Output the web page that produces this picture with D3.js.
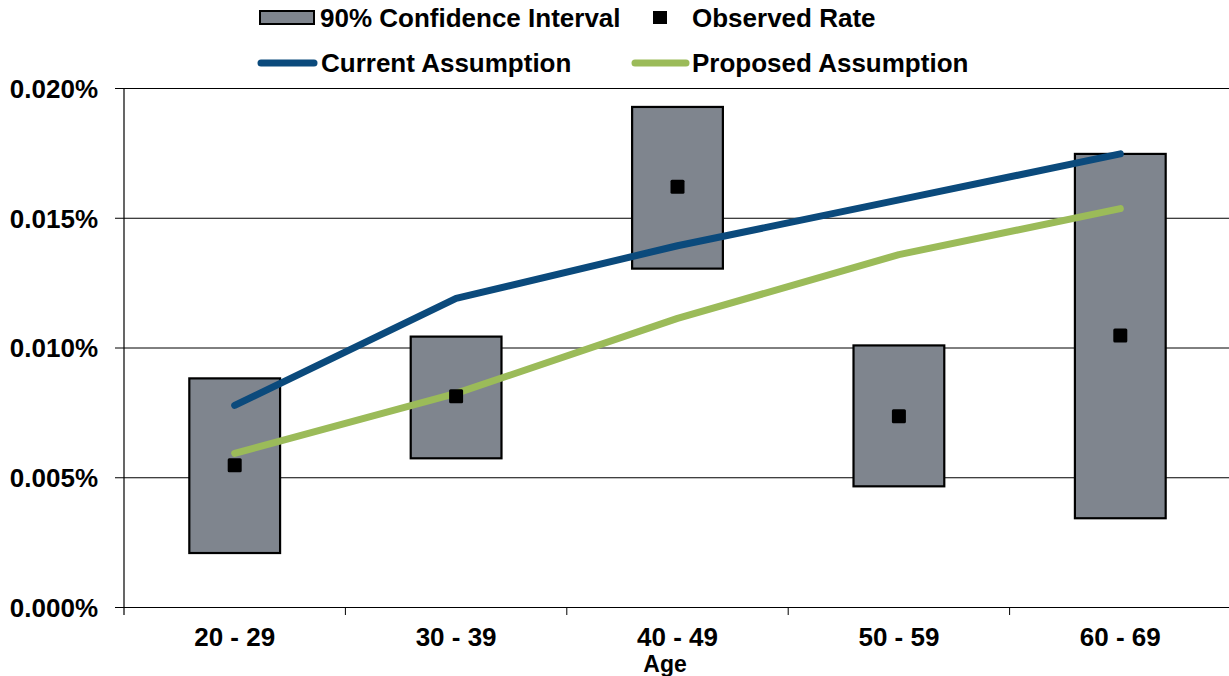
<!DOCTYPE html>
<html>
<head>
<meta charset="utf-8">
<script src="https://cdn.jsdelivr.net/npm/d3@7"></script>
<style>
  body { margin: 0; background: #fff; }
  text { font-family: "Liberation Sans", Arial, sans-serif; font-weight: bold; fill: #000; }
</style>
</head>
<body>
<div class="chart"></div>
<script>
// DATA (values in percent)
const AGES = ["20 - 29", "30 - 39", "40 - 49", "50 - 59", "60 - 69"];
const CI_LOW = [0.00208, 0.00573, 0.01304, 0.00465, 0.00342];
const CI_HIGH = [0.00881, 0.01042, 0.01927, 0.01008, 0.01746];
const OBSERVED = [0.00546, 0.00812, 0.01619, 0.00735, 0.01046];
const CURRENT = [0.00777, 0.01189, 0.01392, 0.01569, 0.01746];
const PROPOSED = [0.00592, 0.00823, 0.01112, 0.01358, 0.01535];
const Y_TICKS = [0, 0.005, 0.010, 0.015, 0.020];

// GLOBAL CONSTANTS
const FRAME_WIDTH = 1229;
const FRAME_HEIGHT = 676;
const MARGINS = {left: 124, right: -2, top: 88, bottom: 69};
const BLUE = "#0b4a7c";
const GREEN = "#9bbb59";
const BOX_FILL = "#7f858e";

const FRAME = d3.select(".chart")
  .append("svg")
    .attr("width", FRAME_WIDTH)
    .attr("height", FRAME_HEIGHT);

const X_SCALE = d3.scaleBand()
  .domain(AGES)
  .range([MARGINS.left, FRAME_WIDTH - MARGINS.right]);

const Y_SCALE = d3.scaleLinear()
  .domain([0, 0.020])
  .range([FRAME_HEIGHT - MARGINS.bottom, MARGINS.top]);

const cx = (i) => X_SCALE(AGES[i]) + X_SCALE.bandwidth() / 2;
const BOX_W = X_SCALE.bandwidth() * 0.41;

// GRIDLINES + Y AXIS
const yAxis = FRAME.append("g")
  .attr("transform", "translate(" + MARGINS.left + ",0)")
  .call(d3.axisLeft(Y_SCALE)
    .tickValues(Y_TICKS)
    .tickSize(-(FRAME_WIDTH - MARGINS.left))
    .tickPadding(26)
    .tickFormat((d) => d3.format(".3f")(d) + "%"));
yAxis.select(".domain").remove();
yAxis.selectAll(".tick line")
  .attr("x1", -9)
  .attr("stroke", "#000")
  .attr("stroke-width", 1);
yAxis.selectAll("text")
  .attr("font-size", "26px")
  .attr("font-family", "Liberation Sans, Arial, sans-serif")
  .attr("font-weight", "bold")
  .attr("dy", "0.36em");

// left axis line
FRAME.append("line")
  .attr("x1", MARGINS.left).attr("x2", MARGINS.left)
  .attr("y1", Y_SCALE(0.020)).attr("y2", Y_SCALE(0) + 8)
  .attr("stroke", "#000").attr("stroke-width", 1.2);

// X AXIS
const xAxis = FRAME.append("g")
  .attr("transform", "translate(0," + Y_SCALE(0) + ")")
  .call(d3.axisBottom(X_SCALE).tickSize(0).tickPadding(21));
xAxis.select(".domain").remove();
xAxis.selectAll("text")
  .attr("font-size", "26px")
  .attr("font-family", "Liberation Sans, Arial, sans-serif")
  .attr("font-weight", "bold");

// band boundary ticks
FRAME.append("g")
  .selectAll("line")
  .data(AGES.slice(1))
  .enter()
  .append("line")
    .attr("x1", (d) => X_SCALE(d))
    .attr("x2", (d) => X_SCALE(d))
    .attr("y1", Y_SCALE(0))
    .attr("y2", Y_SCALE(0) + 8)
    .attr("stroke", "#000");

FRAME.append("text")
  .attr("x", 665)
  .attr("y", 672)
  .attr("text-anchor", "middle")
  .attr("font-size", "23px")
  .text("Age");

// CONFIDENCE BOXES
FRAME.selectAll(".ci")
  .data(AGES)
  .enter()
  .append("rect")
    .attr("class", "ci")
    .attr("x", (d, i) => cx(i) - BOX_W / 2)
    .attr("y", (d, i) => Y_SCALE(CI_HIGH[i]))
    .attr("width", BOX_W)
    .attr("height", (d, i) => Y_SCALE(CI_LOW[i]) - Y_SCALE(CI_HIGH[i]))
    .attr("fill", BOX_FILL)
    .attr("stroke", "#000")
    .attr("stroke-width", 2.2);

// ASSUMPTION LINES
const line = d3.line()
  .x((d, i) => cx(i))
  .y((d) => Y_SCALE(d));

FRAME.append("path")
  .datum(CURRENT)
  .attr("d", line)
  .attr("fill", "none")
  .attr("stroke", BLUE)
  .attr("stroke-width", 7)
  .attr("stroke-linecap", "round")
  .attr("stroke-linejoin", "round");

FRAME.append("path")
  .datum(PROPOSED)
  .attr("d", line)
  .attr("fill", "none")
  .attr("stroke", GREEN)
  .attr("stroke-width", 7)
  .attr("stroke-linecap", "round")
  .attr("stroke-linejoin", "round");

// OBSERVED MARKERS
FRAME.selectAll(".obs")
  .data(OBSERVED)
  .enter()
  .append("rect")
    .attr("class", "obs")
    .attr("x", (d, i) => cx(i) - 7)
    .attr("y", (d) => Y_SCALE(d) - 7)
    .attr("width", 14)
    .attr("height", 14)
    .attr("rx", 1.5)
    .attr("fill", "#000");

// LEGEND
const LEG = FRAME.append("g");
LEG.append("rect")
  .attr("x", 260).attr("y", 11).attr("width", 54).attr("height", 13)
  .attr("fill", BOX_FILL).attr("stroke", "#000").attr("stroke-width", 2);
LEG.append("text")
  .attr("x", 320).attr("y", 27)
  .attr("font-size", "26px")
  .text("90% Confidence Interval");
LEG.append("rect")
  .attr("x", 653).attr("y", 11).attr("width", 14).attr("height", 13)
  .attr("fill", "#000");
LEG.append("text")
  .attr("x", 692).attr("y", 27)
  .attr("font-size", "26px")
  .text("Observed Rate");

LEG.append("line")
  .attr("x1", 261).attr("x2", 314).attr("y1", 63).attr("y2", 63)
  .attr("stroke", BLUE).attr("stroke-width", 7).attr("stroke-linecap", "round");
LEG.append("text")
  .attr("x", 321).attr("y", 72)
  .attr("font-size", "26px")
  .text("Current Assumption");
LEG.append("line")
  .attr("x1", 635).attr("x2", 686).attr("y1", 63).attr("y2", 63)
  .attr("stroke", GREEN).attr("stroke-width", 7).attr("stroke-linecap", "round");
LEG.append("text")
  .attr("x", 692).attr("y", 72)
  .attr("font-size", "26px")
  .text("Proposed Assumption");
</script>
</body>
</html>
